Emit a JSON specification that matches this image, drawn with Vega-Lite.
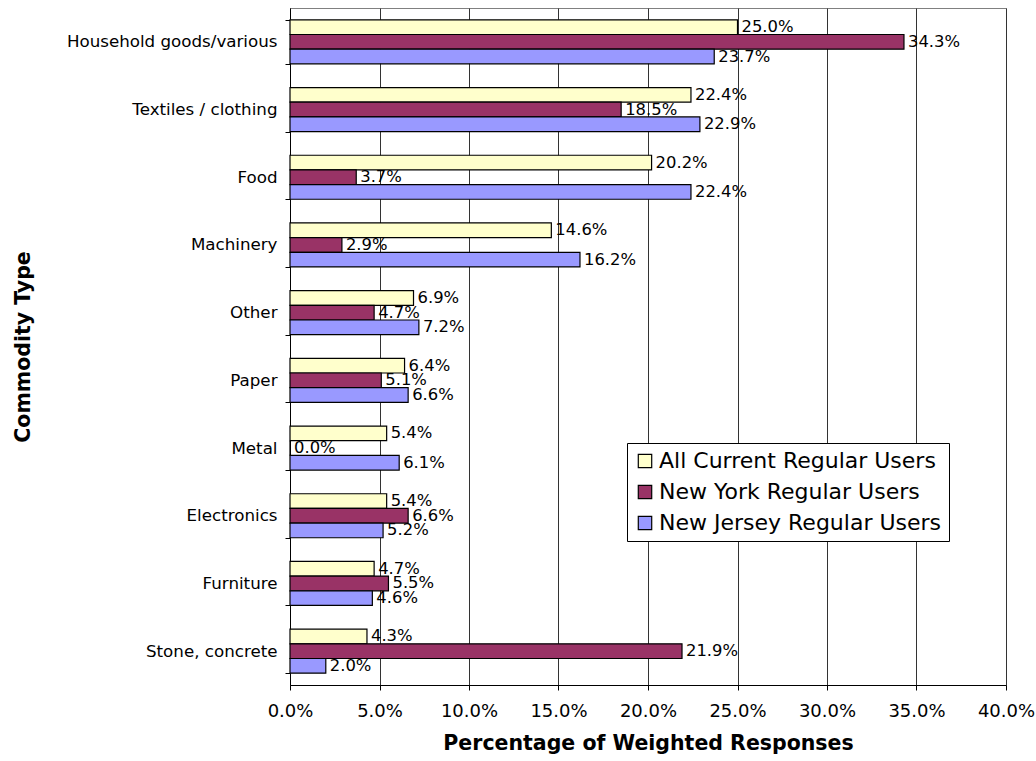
{
  "$schema": "https://vega.github.io/schema/vega-lite/v6.json",
  "autosize": "none",
  "width": 716,
  "height": 677,
  "padding": {"left": 290, "top": 8, "right": 30, "bottom": 76},
  "background": "white",
  "config": {
    "font": "DejaVu Sans",
    "view": {"stroke": "#808080", "strokeWidth": 1}
  },
  "data": {
    "values": [
      {"c": "Household goods/various", "s": "All Current Regular Users", "v": 0.250},
      {"c": "Household goods/various", "s": "New York Regular Users", "v": 0.343},
      {"c": "Household goods/various", "s": "New Jersey Regular Users", "v": 0.237},
      {"c": "Textiles / clothing", "s": "All Current Regular Users", "v": 0.224},
      {"c": "Textiles / clothing", "s": "New York Regular Users", "v": 0.185},
      {"c": "Textiles / clothing", "s": "New Jersey Regular Users", "v": 0.229},
      {"c": "Food", "s": "All Current Regular Users", "v": 0.202},
      {"c": "Food", "s": "New York Regular Users", "v": 0.037},
      {"c": "Food", "s": "New Jersey Regular Users", "v": 0.224},
      {"c": "Machinery", "s": "All Current Regular Users", "v": 0.146},
      {"c": "Machinery", "s": "New York Regular Users", "v": 0.029},
      {"c": "Machinery", "s": "New Jersey Regular Users", "v": 0.162},
      {"c": "Other", "s": "All Current Regular Users", "v": 0.069},
      {"c": "Other", "s": "New York Regular Users", "v": 0.047},
      {"c": "Other", "s": "New Jersey Regular Users", "v": 0.072},
      {"c": "Paper", "s": "All Current Regular Users", "v": 0.064},
      {"c": "Paper", "s": "New York Regular Users", "v": 0.051},
      {"c": "Paper", "s": "New Jersey Regular Users", "v": 0.066},
      {"c": "Metal", "s": "All Current Regular Users", "v": 0.054},
      {"c": "Metal", "s": "New York Regular Users", "v": 0.000},
      {"c": "Metal", "s": "New Jersey Regular Users", "v": 0.061},
      {"c": "Electronics", "s": "All Current Regular Users", "v": 0.054},
      {"c": "Electronics", "s": "New York Regular Users", "v": 0.066},
      {"c": "Electronics", "s": "New Jersey Regular Users", "v": 0.052},
      {"c": "Furniture", "s": "All Current Regular Users", "v": 0.047},
      {"c": "Furniture", "s": "New York Regular Users", "v": 0.055},
      {"c": "Furniture", "s": "New Jersey Regular Users", "v": 0.046},
      {"c": "Stone, concrete", "s": "All Current Regular Users", "v": 0.043},
      {"c": "Stone, concrete", "s": "New York Regular Users", "v": 0.219},
      {"c": "Stone, concrete", "s": "New Jersey Regular Users", "v": 0.020}
    ]
  },
  "encoding": {
    "y": {
      "field": "c",
      "type": "nominal",
      "sort": null,
      "scale": {"paddingInner": 0.35, "paddingOuter": 0.175},
      "axis": {
        "title": "Commodity Type",
        "titleFontSize": 20.5,
        "titleFontWeight": "bold",
        "titleColor": "black",
        "titleX": -257,
        "labelFontSize": 16.7,
        "labelColor": "black",
        "labelPadding": 8,
        "labelLimit": 300,
        "tickBand": "extent",
        "tickColor": "black",
        "tickSize": 5,
        "domainColor": "black",
        "grid": false
      }
    },
    "yOffset": {
      "field": "s",
      "type": "nominal",
      "sort": ["All Current Regular Users", "New York Regular Users", "New Jersey Regular Users"],
      "scale": {"paddingInner": 0, "paddingOuter": 0}
    },
    "x": {
      "field": "v",
      "type": "quantitative",
      "scale": {"domain": [0, 0.4], "nice": false},
      "axis": {
        "title": "Percentage of Weighted Responses",
        "titleFontSize": 20.5,
        "titleFontWeight": "bold",
        "titleColor": "black",
        "titlePadding": 13,
        "format": ".1%",
        "values": [0, 0.05, 0.1, 0.15, 0.2, 0.25, 0.3, 0.35, 0.4],
        "labelFontSize": 18,
        "labelColor": "black",
        "labelPadding": 12,
        "labelFlush": false,
        "tickColor": "black",
        "tickSize": 5,
        "domainColor": "black",
        "grid": true,
        "gridColor": "#333333",
        "gridWidth": 1
      }
    }
  },
  "layer": [
    {
      "mark": {"type": "bar", "stroke": "black", "strokeWidth": 1.2},
      "encoding": {
        "color": {
          "field": "s",
          "type": "nominal",
          "sort": ["All Current Regular Users", "New York Regular Users", "New Jersey Regular Users"],
          "scale": {
            "domain": ["All Current Regular Users", "New York Regular Users", "New Jersey Regular Users"],
            "range": ["#FFFFCC", "#993366", "#9999FF"]
          },
          "legend": {
            "title": null,
            "orient": "none",
            "legendX": 337,
            "legendY": 435,
            "labelFontSize": 22,
            "labelColor": "black",
            "labelLimit": 400,
            "symbolType": "square",
            "symbolSize": 180,
            "symbolStrokeColor": "black",
            "symbolStrokeWidth": 1.2,
            "rowPadding": 9,
            "strokeColor": "black",
            "fillColor": "white",
            "padding": 7,
            "labelOffset": 3
          }
        }
      }
    },
    {
      "mark": {"type": "text", "align": "left", "baseline": "middle", "dx": 4, "fontSize": 16.4, "color": "black"},
      "encoding": {
        "text": {"field": "v", "type": "quantitative", "format": ".1%"}
      }
    }
  ]
}
